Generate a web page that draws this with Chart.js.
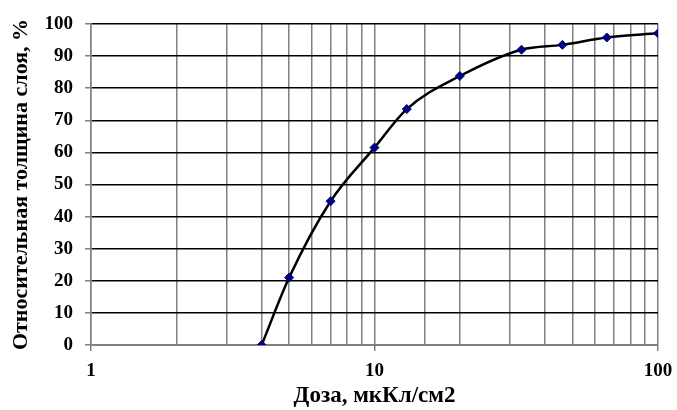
<!DOCTYPE html>
<html>
<head>
<meta charset="utf-8">
<script src="https://cdn.jsdelivr.net/npm/chart.js@4.4.1/dist/chart.umd.min.js"></script>
<style>
  html, body { margin: 0; padding: 0; background: #fff; overflow: hidden; }
  #wrap { width: 677px; height: 410px; }
</style>
</head>
<body>
<div id="wrap"><canvas id="chart" width="677" height="410"></canvas></div>
<script>
// =====================
// Data
// =====================

const doses = [4, 5, 7, 10, 13, 20, 33, 46, 66, 100];
const thickness = [0, 21, 44.8, 61.5, 73.5, 83.8, 92, 93.5, 95.8, 97.1];
const xTickLabels = [1, 10, 100];
const yTicks = [0, 10, 20, 30, 40, 50, 60, 70, 80, 90, 100];

const FONT = '"Liberation Serif", "Times New Roman", serif';

const points = doses.map((d, i) => ({ x: d, y: thickness[i] }));

// =====================
// Chart
// =====================

new Chart(document.getElementById('chart'), {
  type: 'line',
  data: {
    datasets: [{
      data: points,
      borderColor: '#000000',
      borderWidth: 2.5,
      cubicInterpolationMode: 'monotone',
      pointStyle: 'rectRot',
      pointRadius: 4.5,
      pointBackgroundColor: '#000080',
      pointBorderColor: '#000080',
      pointBorderWidth: 1
    }]
  },
  options: {
    responsive: false,
    animation: false,
    layout: { padding: { top: 24, right: 19, left: 0, bottom: 0 } },
    plugins: {
      legend: { display: false },
      tooltip: { enabled: false }
    },
    scales: {
      x: {
        type: 'logarithmic',
        min: 1,
        max: 100,
        afterFit: (scale) => {
          scale.height = 65;
          scale.paddingRight = 0;
          scale.paddingLeft = 0;
        },
        grid: {
          color: '#808080',
          lineWidth: 1.5,
          tickLength: 6,
          tickColor: (ctx) => (ctx.tick && xTickLabels.includes(ctx.tick.value)) ? '#808080' : 'rgba(0,0,0,0)'
        },
        border: { color: '#808080', width: 1.5 },
        ticks: {
          autoSkip: false,
          maxRotation: 0,
          color: '#000',
          padding: 9,
          font: { family: FONT, size: 19, weight: 'bold' },
          callback: (v) => xTickLabels.includes(v) ? String(v) : ''
        },
        title: {
          display: true,
          text: 'Доза, мкКл/см2',
          color: '#000',
          padding: { top: 0, bottom: 0 },
          font: { family: FONT, size: 23, weight: 'bold' }
        }
      },
      y: {
        min: 0,
        max: 100,
        afterFit: (scale) => { scale.width = 91; },
        afterBuildTicks: (scale) => { scale.ticks = yTicks.map(v => ({ value: v })); },
        grid: {
          color: '#000000',
          lineWidth: 1.5,
          tickLength: 6,
          tickColor: '#808080'
        },
        border: { color: '#808080', width: 1.5 },
        ticks: {
          color: '#000',
          padding: 12,
          font: { family: FONT, size: 19, weight: 'bold' }
        },
        title: {
          display: true,
          text: 'Относительная толщина слоя, %',
          color: '#000',
          padding: { top: 8, bottom: 0 },
          font: { family: FONT, size: 22, weight: 'bold' }
        }
      }
    }
  }
});
</script>
</body>
</html>
